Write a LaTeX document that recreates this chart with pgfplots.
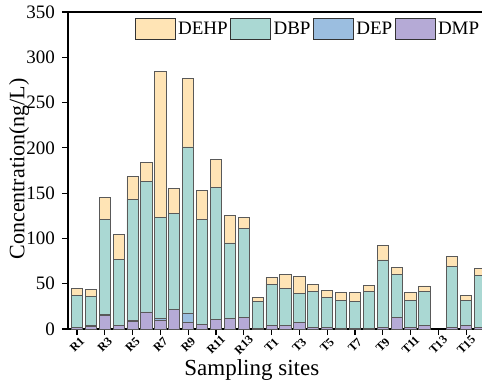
\documentclass[border=0pt]{standalone}
\usepackage{fontspec}
\setmainfont{Liberation Serif}
\usepackage{pgfplots}
\usepackage{pgfplotstable}
\pgfplotsset{compat=1.18}
\definecolor{cDEHP}{RGB}{255,228,181}
\definecolor{cDBP}{RGB}{170,216,211}
\definecolor{cDEP}{RGB}{155,190,224}
\definecolor{cDMP}{RGB}{181,170,214}
\pgfplotstableread{
x DMP DEP DBP DEHP
0 1.5 0 35.7 7.3
1 3.3 0.7 32.0 7.4
2 15.4 1.0 104.6 24.0
3 4.4 0 72.6 27.0
4 8.0 1.0 134.5 24.5
5 18.8 0 144.2 21.0
6 9.9 1.5 111.5 161.1
7 21.7 0 105.6 28.3
8 7.0 10.3 183.7 76.0
9 5.5 0 115.5 32.0
10 11.0 0 145.0 31.6
11 12.1 0 82.9 30.5
12 13.2 0 97.5 12.3
13 1.0 0 29.9 4.4
14 4.4 0 44.9 8.1
15 4.4 0 40.5 15.4
16 7.4 0 31.6 19.1
17 1.8 0 39.8 7.7
18 1.8 0 32.8 8.1
19 0.8 0 30.8 8.9
20 0.3 0 30.2 10.0
21 1.0 0 40.6 6.2
22 1.5 0 74.7 16.5
23 12.9 0 47.8 7.0
24 1.8 0 29.5 8.8
25 3.7 0 37.9 5.9
26 0 0 0 0
27 1.8 0 67.7 10.7
28 4.0 0 27.3 5.9
29 2.0 0 57.3 7.7
}\data
\begin{document}
\begin{tikzpicture}
\begin{axis}[name=ax, scale only axis, width=207pt, height=158.5pt,
  xmin=-0.65, xmax=29.14, ymin=0, ymax=350,
  ybar stacked, bar width=0.81,
  axis x line*=box, axis y line*=left,
  axis line style={black, line width=0.6pt},
  xtick pos=left, ytick pos=left, tick align=outside,
  major tick length=3pt,
  every tick/.style={black, line width=0.6pt},
  xtick={0,2,...,28},
  xticklabels={R1,R3,R5,R7,R9,R11,R13,T1,T3,T5,T7,T9,T11,T13,T15},
  ytick={0,50,...,350},
  /pgf/number format/assume math mode=true,
  yticklabel style={font=\fontsize{9.5}{10}\selectfont},
  xticklabel style={rotate=45, anchor=center, inner sep=0pt, font=\bfseries\fontsize{6}{7}\selectfont},
  xticklabel shift=5pt,
  ylabel={Concentration(ng/L)},
  ylabel style={font=\fontsize{11}{12}\selectfont, at={(axis description cs:-0.118,0.505)}, anchor=center},
  xlabel={Sampling sites},
  xlabel style={font=\fontsize{11.5}{12}\selectfont, at={(axis description cs:0.444,-0.148)}, anchor=base},
  reverse legend,
  legend style={at={(axis description cs:1,1)}, anchor=north east, yshift=-3pt, draw=none, fill=none,
    legend columns=-1, font=\fontsize{9.5}{10}\selectfont, inner xsep=0pt, inner ysep=0pt,
    nodes={inner xsep=1.2pt, inner ysep=0pt},
    /tikz/every even column/.style={column sep=0pt}},
  legend image code/.code={\draw[#1, draw=black!80, line width=0.5pt] (0pt,-5.25pt) rectangle (20pt,5.25pt);},
  every axis plot/.append style={draw=black!65, line width=0.45pt},
]
\addplot[fill=cDMP, draw=black!65] table[x=x,y=DMP]{\data};
\addlegendentry{DMP}
\addplot[fill=cDEP, draw=black!65] table[x=x,y=DEP]{\data};
\addlegendentry{DEP}
\addplot[fill=cDBP, draw=black!65] table[x=x,y=DBP]{\data};
\addlegendentry{DBP}
\addplot[fill=cDEHP, draw=black!65] table[x=x,y=DEHP]{\data};
\addlegendentry{DEHP}
\end{axis}
\pgfresetboundingbox
\path[use as bounding box] (ax.south west) ++(-34pt,-28pt) rectangle ([yshift=6pt]ax.north east);
\end{tikzpicture}
\end{document}
